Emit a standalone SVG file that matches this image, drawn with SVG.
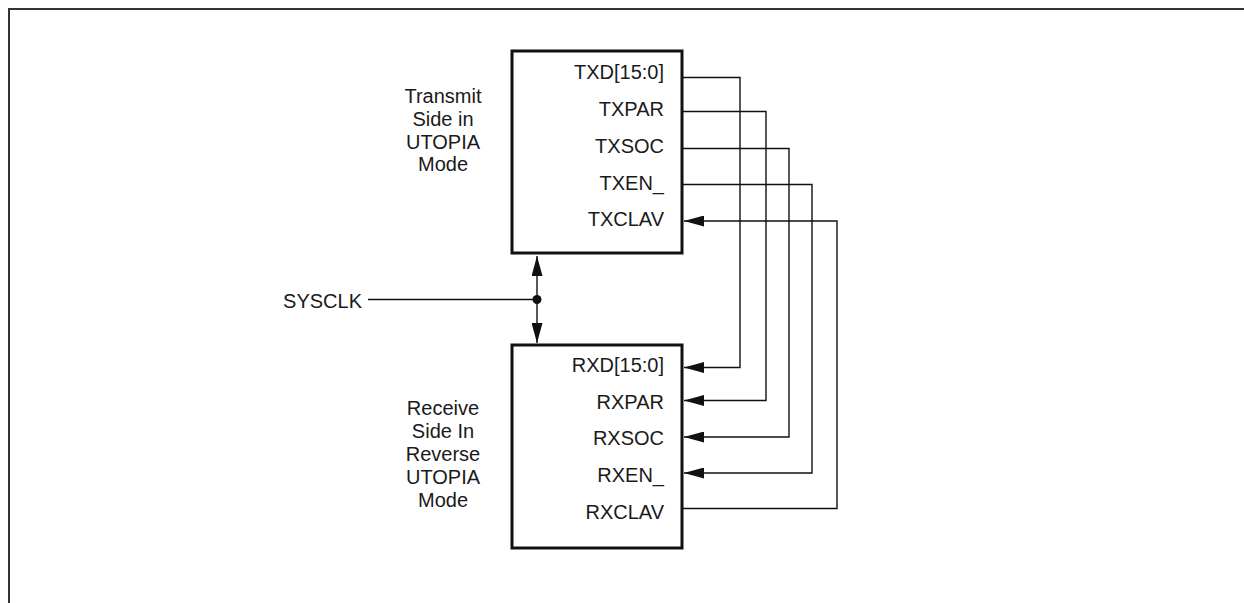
<svg xmlns="http://www.w3.org/2000/svg" width="1244" height="603" viewBox="0 0 1244 603">
<style>
text{font-family:"Liberation Sans",Arial,sans-serif;font-size:20px;fill:#1a1a1a}
.sig{text-anchor:end}
.lbl{text-anchor:middle}
.box{fill:#fff;stroke:#111;stroke-width:3}
.wire{fill:none;stroke:#111;stroke-width:1.4}
.frame{fill:none;stroke:#333;stroke-width:2}
</style>
<defs>
<marker id="arr" viewBox="0 0 20 11" refX="20" refY="5.5" markerWidth="20" markerHeight="11" markerUnits="userSpaceOnUse" orient="auto">
<path d="M0,0 L20,5.5 L0,11 Z" fill="#111"/>
</marker>
</defs>
<path class="frame" d="M9,604 L9,9 L1245,9"/>
<g id="tx">
<rect class="box" x="512" y="51" width="170" height="202"/>
<text class="sig" x="664" y="79">TXD[15:0]</text>
<text class="sig" x="664" y="116">TXPAR</text>
<text class="sig" x="664" y="153">TXSOC</text>
<text class="sig" x="664" y="189.5">TXEN_</text>
<text class="sig" x="664" y="226">TXCLAV</text>
<text class="lbl" x="443" y="103">Transmit</text>
<text class="lbl" x="443" y="126">Side in</text>
<text class="lbl" x="443" y="148.5">UTOPIA</text>
<text class="lbl" x="443" y="171">Mode</text>
</g>
<g id="rx">
<rect class="box" x="512" y="345" width="170" height="203"/>
<text class="sig" x="664" y="372">RXD[15:0]</text>
<text class="sig" x="664" y="408.5">RXPAR</text>
<text class="sig" x="664" y="445">RXSOC</text>
<text class="sig" x="664" y="481.5">RXEN_</text>
<text class="sig" x="664" y="519">RXCLAV</text>
<text class="lbl" x="443" y="415">Receive</text>
<text class="lbl" x="443" y="438">Side In</text>
<text class="lbl" x="443" y="461">Reverse</text>
<text class="lbl" x="443" y="484">UTOPIA</text>
<text class="lbl" x="443" y="507">Mode</text>
</g>
<g id="sysclk">
<text class="sig" x="362" y="308">SYSCLK</text>
</g>
<g id="connectors">
<path class="wire" d="M682,77.5 H740 V367.5 H684" marker-end="url(#arr)"/>
<path class="wire" d="M682,111.5 H766 V400.5 H684" marker-end="url(#arr)"/>
<path class="wire" d="M682,148.5 H789 V437 H684" marker-end="url(#arr)"/>
<path class="wire" d="M682,184.5 H812 V473 H684" marker-end="url(#arr)"/>
<path class="wire" d="M682,508.5 H837 V221 H684" marker-end="url(#arr)"/>
<path class="wire" d="M368,299.5 H537"/>
<path class="wire" d="M537,299.5 V256" marker-end="url(#arr)"/>
<path class="wire" d="M537,299.5 V343" marker-end="url(#arr)"/>
<circle cx="537" cy="299.5" r="4.5" fill="#111"/>
</g>
</svg>
